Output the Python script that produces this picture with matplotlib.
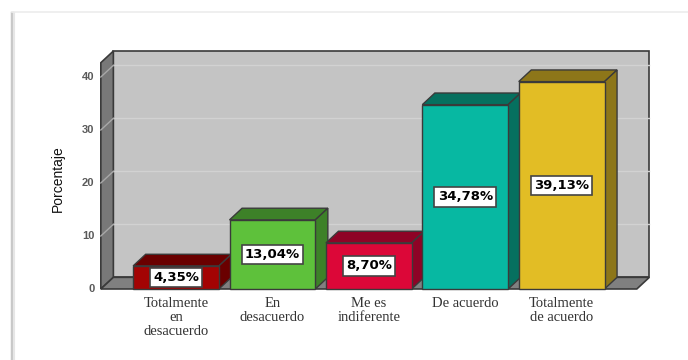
import matplotlib
matplotlib.use("Agg")
import matplotlib.pyplot as plt
from matplotlib.patches import Polygon

categories = ["Totalmente\nen\ndesacuerdo", "En\ndesacuerdo", "Me es\nindiferente",
              "De acuerdo", "Totalmente\nde acuerdo"]
values = [4.35, 13.04, 8.70, 34.78, 39.13]
value_labels = ["4,35%", "13,04%", "8,70%", "34,78%", "39,13%"]
yticks = [0, 10, 20, 30, 40]

front_cols = ["#a30303", "#5ec13b", "#dc0738", "#07b8a2", "#e2bd25"]
dark_cols = ["#6a0000", "#3d8128", "#8e0326", "#06705f", "#8d7619"]

# layout (data units of the front plane)
w = 0.89
dx, dy = 0.13, 2.2
x0, x1 = -0.78, 4.78
ymax = 42.7
edge = "#3a3a3a"

fig = plt.figure(figsize=(6.88, 3.6), dpi=100)
ax = fig.add_axes([0, 0, 1, 1])
ax.set_xlim(-1.826, 5.311)
ax.set_ylim(-13.4, 54.53)
ax.axis("off")

# faint outer frame shadow
fig.add_artist(plt.Line2D([0.017, 0.017], [0, 0.965], color="#c8c8c8", lw=2.5))
fig.add_artist(plt.Line2D([0.020, 0.020], [0, 0.965], color="#e6e6e6", lw=1.5))
fig.add_artist(plt.Line2D([0.017, 1], [0.967, 0.967], color="#ececec", lw=1.2))

# back wall, left wall, floor
ax.add_patch(Polygon([(x0 + dx, dy), (x1 + dx, dy), (x1 + dx, ymax + dy), (x0 + dx, ymax + dy)],
                     closed=True, fc="#c4c4c4", ec=edge, lw=1.2, zorder=1))
ax.add_patch(Polygon([(x0, 0), (x0 + dx, dy), (x0 + dx, ymax + dy), (x0, ymax)],
                     closed=True, fc="#787878", ec=edge, lw=1.2, zorder=1))
ax.add_patch(Polygon([(x0, 0), (x1, 0), (x1 + dx, dy), (x0 + dx, dy)],
                     closed=True, fc="#808080", ec=edge, lw=1.2, zorder=1))

for g in yticks[1:]:
    ax.plot([x0 + dx, x1 + dx], [g + dy, g + dy], color="#d2d2d2", lw=1, zorder=2)
    ax.plot([x0, x0 + dx], [g, g + dy], color="#a8a8a8", lw=1, zorder=2)

for t in yticks:
    ax.text(x0 - 0.065, t, str(t), ha="right", va="center", fontsize=8,
            color="#5a5a5a", fontweight="bold", family="Liberation Sans")

ax.text(-1.23, ymax / 2 - 0.5, "Porcentaje", rotation=90, ha="center", va="center",
        fontsize=10, color="#111111", family="Liberation Sans")

xs = list(range(len(values)))
ax.bar(xs, values, width=w, color=front_cols, edgecolor=edge, linewidth=1, zorder=4)
for i, v in enumerate(values):
    l, r = i - w / 2, i + w / 2
    ax.add_patch(Polygon([(l, v), (r, v), (r + dx, v + dy), (l + dx, v + dy)], closed=True,
                         fc=dark_cols[i], ec=edge, lw=1, zorder=3))
    ax.add_patch(Polygon([(r, 0), (r + dx, dy), (r + dx, v + dy), (r, v)], closed=True,
                         fc=dark_cols[i], ec=edge, lw=1, zorder=3))
    ax.text(i, v / 2, value_labels[i], ha="center", va="center", fontsize=9.5,
            fontweight="bold", family="DejaVu Sans", color="black", zorder=6,
            bbox=dict(boxstyle="square,pad=0.25", fc="white", ec="#444444", lw=1.2))
    ax.text(i, -1.5, categories[i], ha="center", va="top", fontsize=10.5,
            family="Liberation Serif", color="#333333", linespacing=1.1)

fig.savefig("out.png", dpi=100)
